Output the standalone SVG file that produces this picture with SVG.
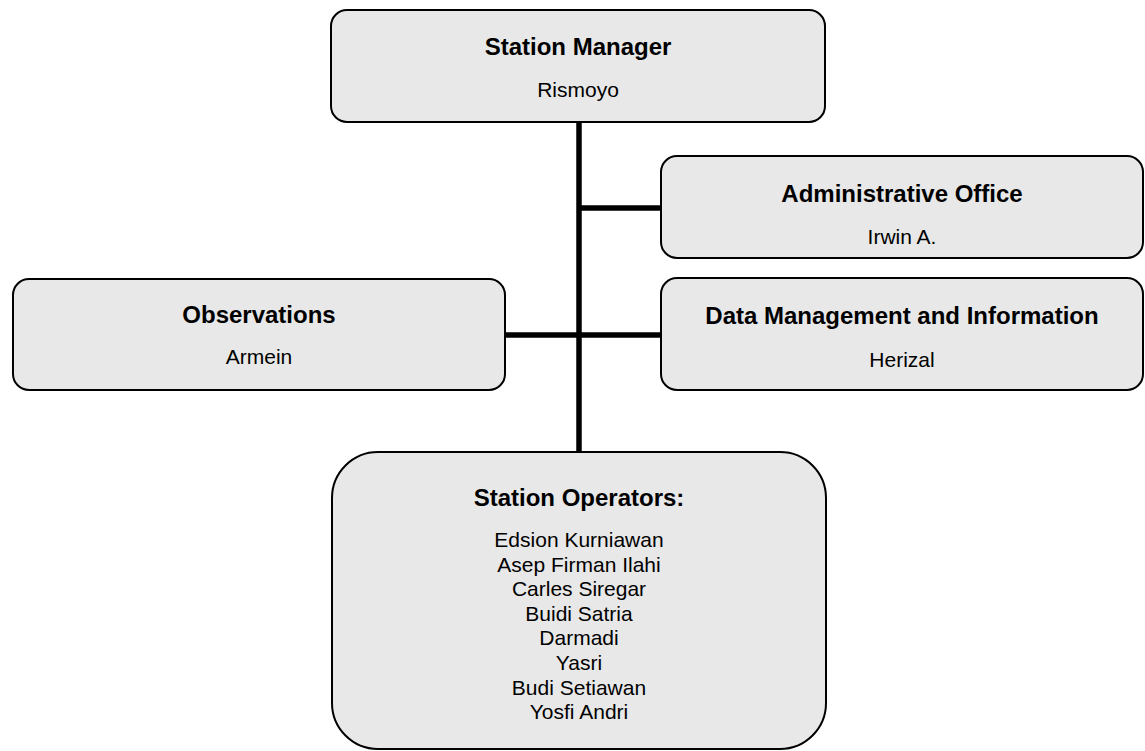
<svg xmlns="http://www.w3.org/2000/svg" width="1145" height="751" viewBox="0 0 1145 751">
  <style>
    .box { fill: #e8e8e8; stroke: #000; stroke-width: 2; }
    .title { font-family: "Liberation Sans", Arial, sans-serif; font-weight: bold; font-size: 24px; fill: #000; text-anchor: middle; }
    .name { font-family: "Liberation Sans", Arial, sans-serif; font-size: 21px; fill: #000; text-anchor: middle; }
    .conn { stroke: #000; stroke-width: 5.5; fill: none; }
  </style>
  <rect width="1145" height="751" fill="#fff"/>
  <g id="connectors">
    <line class="conn" x1="579" y1="122" x2="579" y2="452"/>
    <line class="conn" x1="579" y1="208" x2="661" y2="208"/>
    <line class="conn" x1="505" y1="335" x2="661" y2="335"/>
  </g>
  <g id="station-manager">
    <rect class="box" x="331" y="10" width="494" height="112" rx="16" ry="16"/>
    <text class="title" x="578" y="55">Station Manager</text>
    <text class="name" x="578" y="97">Rismoyo</text>
  </g>
  <g id="administrative-office">
    <rect class="box" x="661" y="156" width="482" height="102" rx="16" ry="16"/>
    <text class="title" x="902" y="202">Administrative Office</text>
    <text class="name" x="902" y="244">Irwin A.</text>
  </g>
  <g id="data-management">
    <rect class="box" x="661" y="278" width="482" height="112" rx="16" ry="16"/>
    <text class="title" x="902" y="324">Data Management and Information</text>
    <text class="name" x="902" y="367">Herizal</text>
  </g>
  <g id="observations">
    <rect class="box" x="13" y="279" width="492" height="111" rx="16" ry="16"/>
    <text class="title" x="259" y="323">Observations</text>
    <text class="name" x="259" y="364">Armein</text>
  </g>
  <g id="station-operators">
    <rect class="box" x="332" y="452" width="494" height="297" rx="46" ry="46"/>
    <text class="title" x="579" y="506">Station Operators:</text>
    <text class="name" x="579" y="547">Edsion Kurniawan</text>
    <text class="name" x="579" y="571.6">Asep Firman Ilahi</text>
    <text class="name" x="579" y="596.2">Carles Siregar</text>
    <text class="name" x="579" y="620.8">Buidi Satria</text>
    <text class="name" x="579" y="645.4">Darmadi</text>
    <text class="name" x="579" y="670">Yasri</text>
    <text class="name" x="579" y="694.6">Budi Setiawan</text>
    <text class="name" x="579" y="719.2">Yosfi Andri</text>
  </g>
</svg>
